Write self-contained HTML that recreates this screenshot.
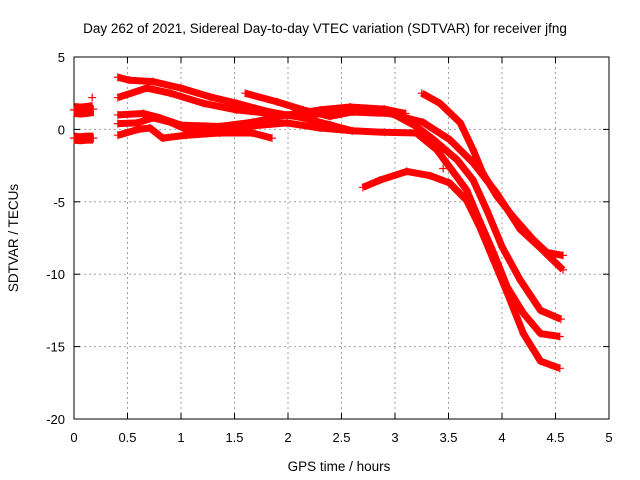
<!DOCTYPE html>
<html><head><meta charset="utf-8"><style>
html,body{margin:0;padding:0;background:#fff}
svg{display:block;font-family:"Liberation Sans",sans-serif}
</style></head><body>
<svg id="chart" width="640" height="480" xmlns="http://www.w3.org/2000/svg">
<text x="325" y="33" font-size="13.5" text-anchor="middle">Day 262 of 2021, Sidereal Day-to-day VTEC variation (SDTVAR) for receiver jfng</text>
<text x="339" y="471" font-size="13.5" text-anchor="middle">GPS time / hours</text>
<text transform="translate(18,238) rotate(-90)" font-size="13.5" text-anchor="middle">SDTVAR / TECUs</text>
<g id="grid"></g><g id="axes"></g><g id="marks"></g>
</svg>
<script>
const xTicks=[0,0.5,1,1.5,2,2.5,3,3.5,4,4.5,5];
const yTicks=[5,0,-5,-10,-15,-20];
const xTickLabels=["0","0.5","1","1.5","2","2.5","3","3.5","4","4.5","5"];
const yTickLabels=["5","0","-5","-10","-15","-20"];
const blobA=[[0.0,1.35],[0.06,1.3],[0.12,1.35],[0.18,1.4]];
const blobB=[[0.0,-0.6],[0.06,-0.65],[0.12,-0.6],[0.18,-0.6]];
const track1=[[0.41,3.6],[0.52,3.4],[0.74,3.3],[1.0,2.85],[1.27,2.25],[1.52,1.8],[1.83,1.2],[2.14,0.8],[2.4,0.3],[2.6,-0.1],[2.9,-0.2],[3.2,-0.25],[3.39,-1.4],[3.51,-2.6],[3.67,-4.2],[3.79,-6.3],[3.92,-8.5],[4.05,-10.9],[4.2,-12.7],[4.36,-14.1],[4.54,-14.3]];
const track2=[[0.41,2.2],[0.68,2.85],[0.9,2.5],[1.21,1.8],[1.52,1.35],[1.83,1.1],[2.14,0.85],[2.46,1.35],[2.7,1.4],[2.95,1.2],[3.2,0.2],[3.36,-0.7],[3.58,-2.1],[3.73,-3.5],[3.86,-5.6],[4.0,-8.1],[4.17,-10.4],[4.36,-12.5],[4.55,-13.1]];
const track3=[[1.6,2.5],[1.9,1.9],[2.14,1.35],[2.39,0.9],[2.6,1.2],[2.95,1.1],[3.26,0.5],[3.51,-0.7],[3.73,-2.3],[3.95,-4.4],[4.17,-6.9],[4.36,-8.2],[4.57,-9.7]];
const track4=[[0.41,1.0],[0.65,1.1],[0.8,0.8],[1.0,0.3],[1.36,0.2],[1.67,0.5],[1.99,1.0],[2.3,1.35],[2.58,1.55],[2.9,1.4],[3.1,1.1]];
const track5=[[0.41,-0.4],[0.6,0.0],[0.71,0.1],[0.83,-0.6],[1.05,-0.4],[1.36,-0.25],[1.67,-0.25],[1.85,-0.6]];
const track6=[[0.41,0.4],[0.59,0.45],[0.74,0.8],[0.9,0.5],[1.05,0.0],[1.52,0.15],[1.99,0.45],[2.3,0.1],[2.6,-0.1]];
const track8=[[3.25,2.5],[3.42,1.8],[3.61,0.45],[3.73,-1.4],[3.82,-3.0],[3.95,-4.6],[4.1,-6.0],[4.29,-7.6],[4.42,-8.5],[4.57,-8.7]];
const track9=[[2.7,-4.0],[2.86,-3.5],[3.11,-2.9],[3.33,-3.2],[3.51,-3.7],[3.67,-4.9],[3.79,-6.7],[3.92,-9.0],[4.05,-11.3],[4.2,-14.1],[4.36,-16.0],[4.54,-16.5]];
const stray=[[0.17,2.2],[3.45,-2.7]];

const X0=74,X1=609,Y0=57,Y1=419;
const sx=v=>X0+(v-0)/(5-0)*(X1-X0);
const sy=v=>Y1-(v-(-20))/(5-(-20))*(Y1-Y0);
const NS="http://www.w3.org/2000/svg";
function mk(tag,attrs,parent){const e=document.createElementNS(NS,tag);for(const k in attrs)e.setAttribute(k,attrs[k]);parent.appendChild(e);return e;}
const grid=document.getElementById('grid'),axes=document.getElementById('axes'),marks=document.getElementById('marks');
xTicks.forEach((t,i)=>{const x=sx(t);
 if(i>0&&i<xTicks.length-1){const g=mk('line',{x1:x,y1:Y0,x2:x,y2:Y1,stroke:'#a0a0a0','stroke-dasharray':'2,3'},grid);
 
 }
 mk('line',{x1:x,y1:Y1,x2:x,y2:Y1-6,stroke:'#000'},axes);
 mk('line',{x1:x,y1:Y0,x2:x,y2:Y0+6,stroke:'#000'},axes);
 const l=mk('text',{x:x,y:Y1+23,'font-size':13,'text-anchor':'middle'},axes);l.textContent=xTickLabels[i];
 
 
});
yTicks.forEach((t,i)=>{const y=sy(t);
 if(i>0&&i<yTicks.length-1){const g=mk('line',{x1:X0,y1:y,x2:X1,y2:y,stroke:'#a0a0a0','stroke-dasharray':'2,3'},grid);
 
 }
 mk('line',{x1:X0,y1:y,x2:X0+6,y2:y,stroke:'#000'},axes);
 mk('line',{x1:X1,y1:y,x2:X1-6,y2:y,stroke:'#000'},axes);
 const l=mk('text',{x:X0-9,y:y+5,'font-size':13,'text-anchor':'end'},axes);l.textContent=yTickLabels[i];
 
 
});
const b=mk('rect',{x:X0,y:Y0,width:X1-X0,height:Y1-Y0,fill:'none',stroke:'#000'},axes);


const series=[[blobA,14],[blobB,11],[track1,7],[track2,7],[track3,7],[track4,7],[track5,7],[track6,7],[track8,7],[track9,7]];
series.forEach(([pts,w],si)=>{
 const d=pts.map(p=>sx(p[0]).toFixed(1)+','+sy(p[1]).toFixed(1)).join(' ');
 const pl=mk('polyline',{points:d,fill:'none',stroke:'#ff0000','stroke-width':w,'stroke-linejoin':'round','stroke-linecap':'butt'},marks);
 
 
 pts.forEach(p=>{const x=sx(p[0]),y=sy(p[1]);
  const m=mk('path',{d:`M${x-4},${y}H${x+4}M${x},${y-4}V${y+4}`,stroke:'#ff0000','stroke-width':1.2},marks);
  
  
 });
});
stray.forEach(p=>{const x=sx(p[0]),y=sy(p[1]);
 const m=mk('path',{d:`M${x-4},${y}H${x+4}M${x},${y-4}V${y+4}`,stroke:'#ff0000','stroke-width':1.2},marks);
 
 
});
</script>
</body></html>
